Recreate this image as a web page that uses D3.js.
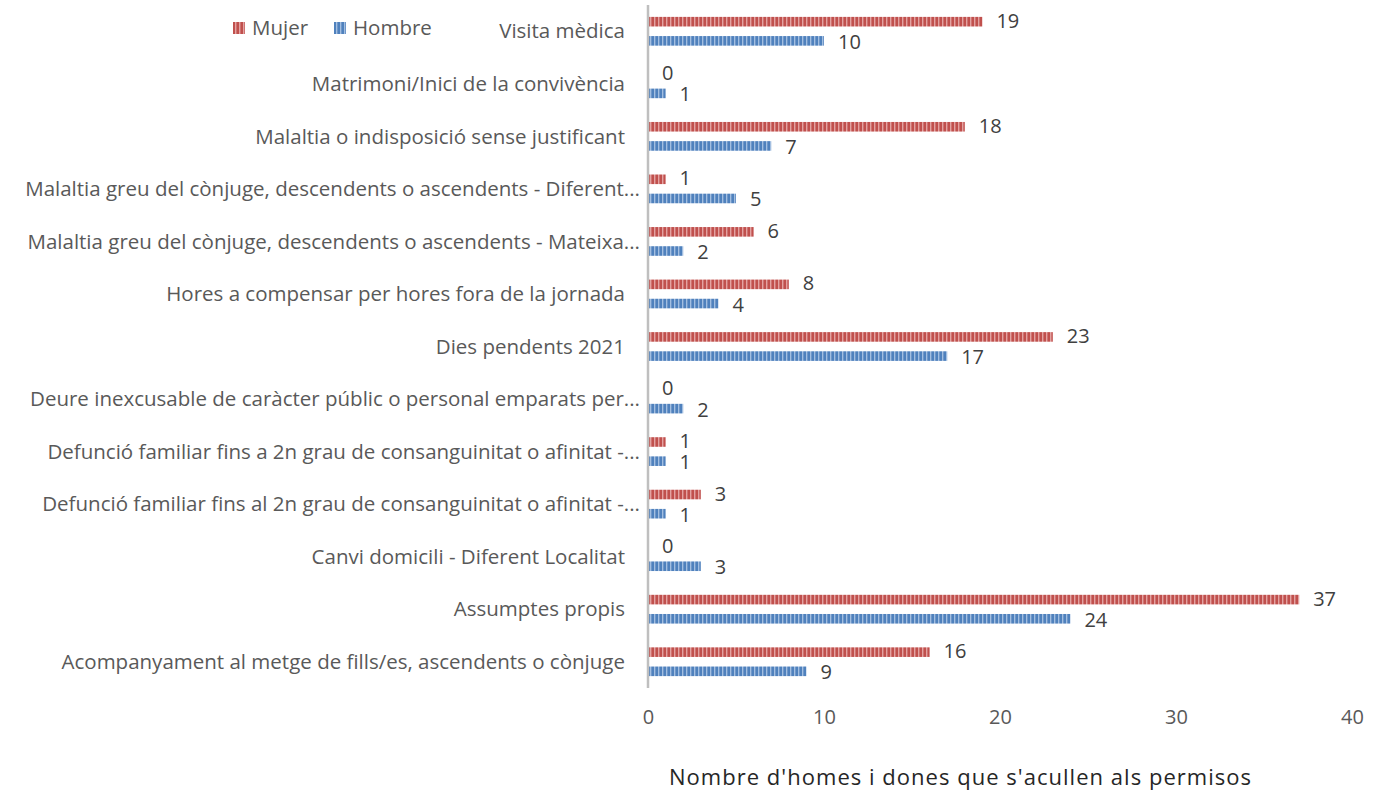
<!DOCTYPE html>
<html>
<head>
<meta charset="utf-8">
<script src="https://cdn.jsdelivr.net/npm/d3@7"></script>
<style>
  body { margin: 0; background: #fff; }
  text { font-family: "Open Sans", sans-serif; }
</style>
</head>
<body>
<div id="chart"></div>
<script>
const categories = [
  "Visita mèdica",
  "Matrimoni/Inici de la convivència",
  "Malaltia o indisposició sense justificant",
  "Malaltia greu del cònjuge, descendents o ascendents - Diferent...",
  "Malaltia greu del cònjuge, descendents o ascendents - Mateixa...",
  "Hores a compensar per hores fora de la jornada",
  "Dies pendents 2021",
  "Deure inexcusable de caràcter públic o personal emparats per...",
  "Defunció familiar fins a 2n grau de consanguinitat o afinitat -...",
  "Defunció familiar fins al 2n grau de consanguinitat o afinitat -...",
  "Canvi domicili - Diferent Localitat",
  "Assumptes propis",
  "Acompanyament al metge de fills/es, ascendents o cònjuge"
];
const mujer = [19, 0, 18, 1, 6, 8, 23, 0, 1, 3, 0, 37, 16];
const hombre = [10, 1, 7, 5, 2, 4, 17, 2, 1, 1, 3, 24, 9];
const xTicks = [0, 10, 20, 30, 40];
const seriesNames = ["Mujer", "Hombre"];

const width = 1382, height = 791;
const margin = { left: 648, right: 30, top: 5, bottom: 103 };

const svg = d3.select("#chart").append("svg")
  .attr("width", width).attr("height", height);

// striped fills
const defs = svg.append("defs");
function stripes(id, dark, mid, light) {
  const p = defs.append("pattern").attr("id", id)
    .attr("patternUnits", "userSpaceOnUse")
    .attr("width", 4).attr("height", 4);
  p.append("rect").attr("width", 4).attr("height", 4).attr("fill", dark);
  p.append("rect").attr("x", 2).attr("width", 1).attr("height", 4).attr("fill", light);
  p.append("rect").attr("x", 3).attr("width", 1).attr("height", 4).attr("fill", mid);
}
stripes("redStripe", "#c0504d", "#cf7371", "#e3a3a2");
stripes("blueStripe", "#4f81bd", "#6f97c9", "#a3bfe1");
const fills = ["url(#redStripe)", "url(#blueStripe)"];

const x = d3.scaleLinear().domain([0, 40]).range([margin.left, 1352]);
const y = d3.scaleBand().domain(categories)
  .range([margin.top, height - margin.bottom]);
const inner = d3.scaleBand().domain([0, 1]).range([0, y.bandwidth()]).paddingInner(0.5).paddingOuter(0.62);

const data = categories.map((c, i) => ({ cat: c, vals: [mujer[i], hombre[i]] }));

const g = svg.selectAll("g.cat").data(data).enter().append("g")
  .attr("transform", d => `translate(0,${y(d.cat)})`);

g.selectAll("rect").data(d => d.vals).enter().append("rect")
  .attr("x", x(0))
  .attr("y", (v, i) => inner(i))
  .attr("width", v => x(v) - x(0))
  .attr("height", inner.bandwidth())
  .attr("fill", (v, i) => fills[i]);

g.selectAll("text.val").data(d => d.vals).enter().append("text")
  .attr("class", "val")
  .attr("x", v => x(v) + 14)
  .attr("y", (v, i) => inner(i) + inner.bandwidth() / 2 + (i === 0 ? -1 : 1))
  .attr("dy", "0.35em")
  .attr("font-size", 20)
  .attr("fill", "#404040")
  .text(v => v);

// category labels
svg.append("g").selectAll("text").data(categories).enter().append("text")
  .attr("x", d => d.endsWith("...") ? 640 : 625)
  .attr("y", d => y(d) + y.bandwidth() / 2)
  .attr("dy", "0.35em")
  .attr("text-anchor", "end")
  .attr("font-size", 20.5)
  .attr("fill", "#595959")
  .text(d => d);

// vertical axis line
svg.append("line")
  .attr("x1", x(0)).attr("x2", x(0))
  .attr("y1", margin.top).attr("y2", height - margin.bottom)
  .attr("stroke", "#bfbfbf").attr("stroke-width", 2.5);

// x tick labels
const xAxis = d3.axisBottom(x).tickValues(xTicks).tickSize(0).tickPadding(0);
const ax = svg.append("g").attr("transform", `translate(0,710)`).call(xAxis);
ax.select(".domain").remove();
ax.selectAll("text").attr("font-size", 20).attr("fill", "#595959")
  .attr("font-family", "'Open Sans', sans-serif");

svg.append("text")
  .attr("x", 960).attr("y", 777)
  .attr("dy", "0.35em")
  .attr("text-anchor", "middle")
  .attr("font-size", 22)
  .attr("textLength", 582)
  .attr("lengthAdjust", "spacing")
  .attr("fill", "#262626")
  .text("Nombre d'homes i dones que s'acullen als permisos");

// legend
const leg = svg.append("g").selectAll("g").data(seriesNames).enter().append("g")
  .attr("transform", (d, i) => `translate(${[233, 334][i]},22)`);
leg.append("rect").attr("width", 12).attr("height", 12).attr("fill", (d, i) => fills[i]);
leg.append("text").attr("x", 19).attr("y", 6).attr("dy", "0.35em")
  .attr("font-size", 20.5).attr("fill", "#595959").text(d => d);
</script>
</body>
</html>
